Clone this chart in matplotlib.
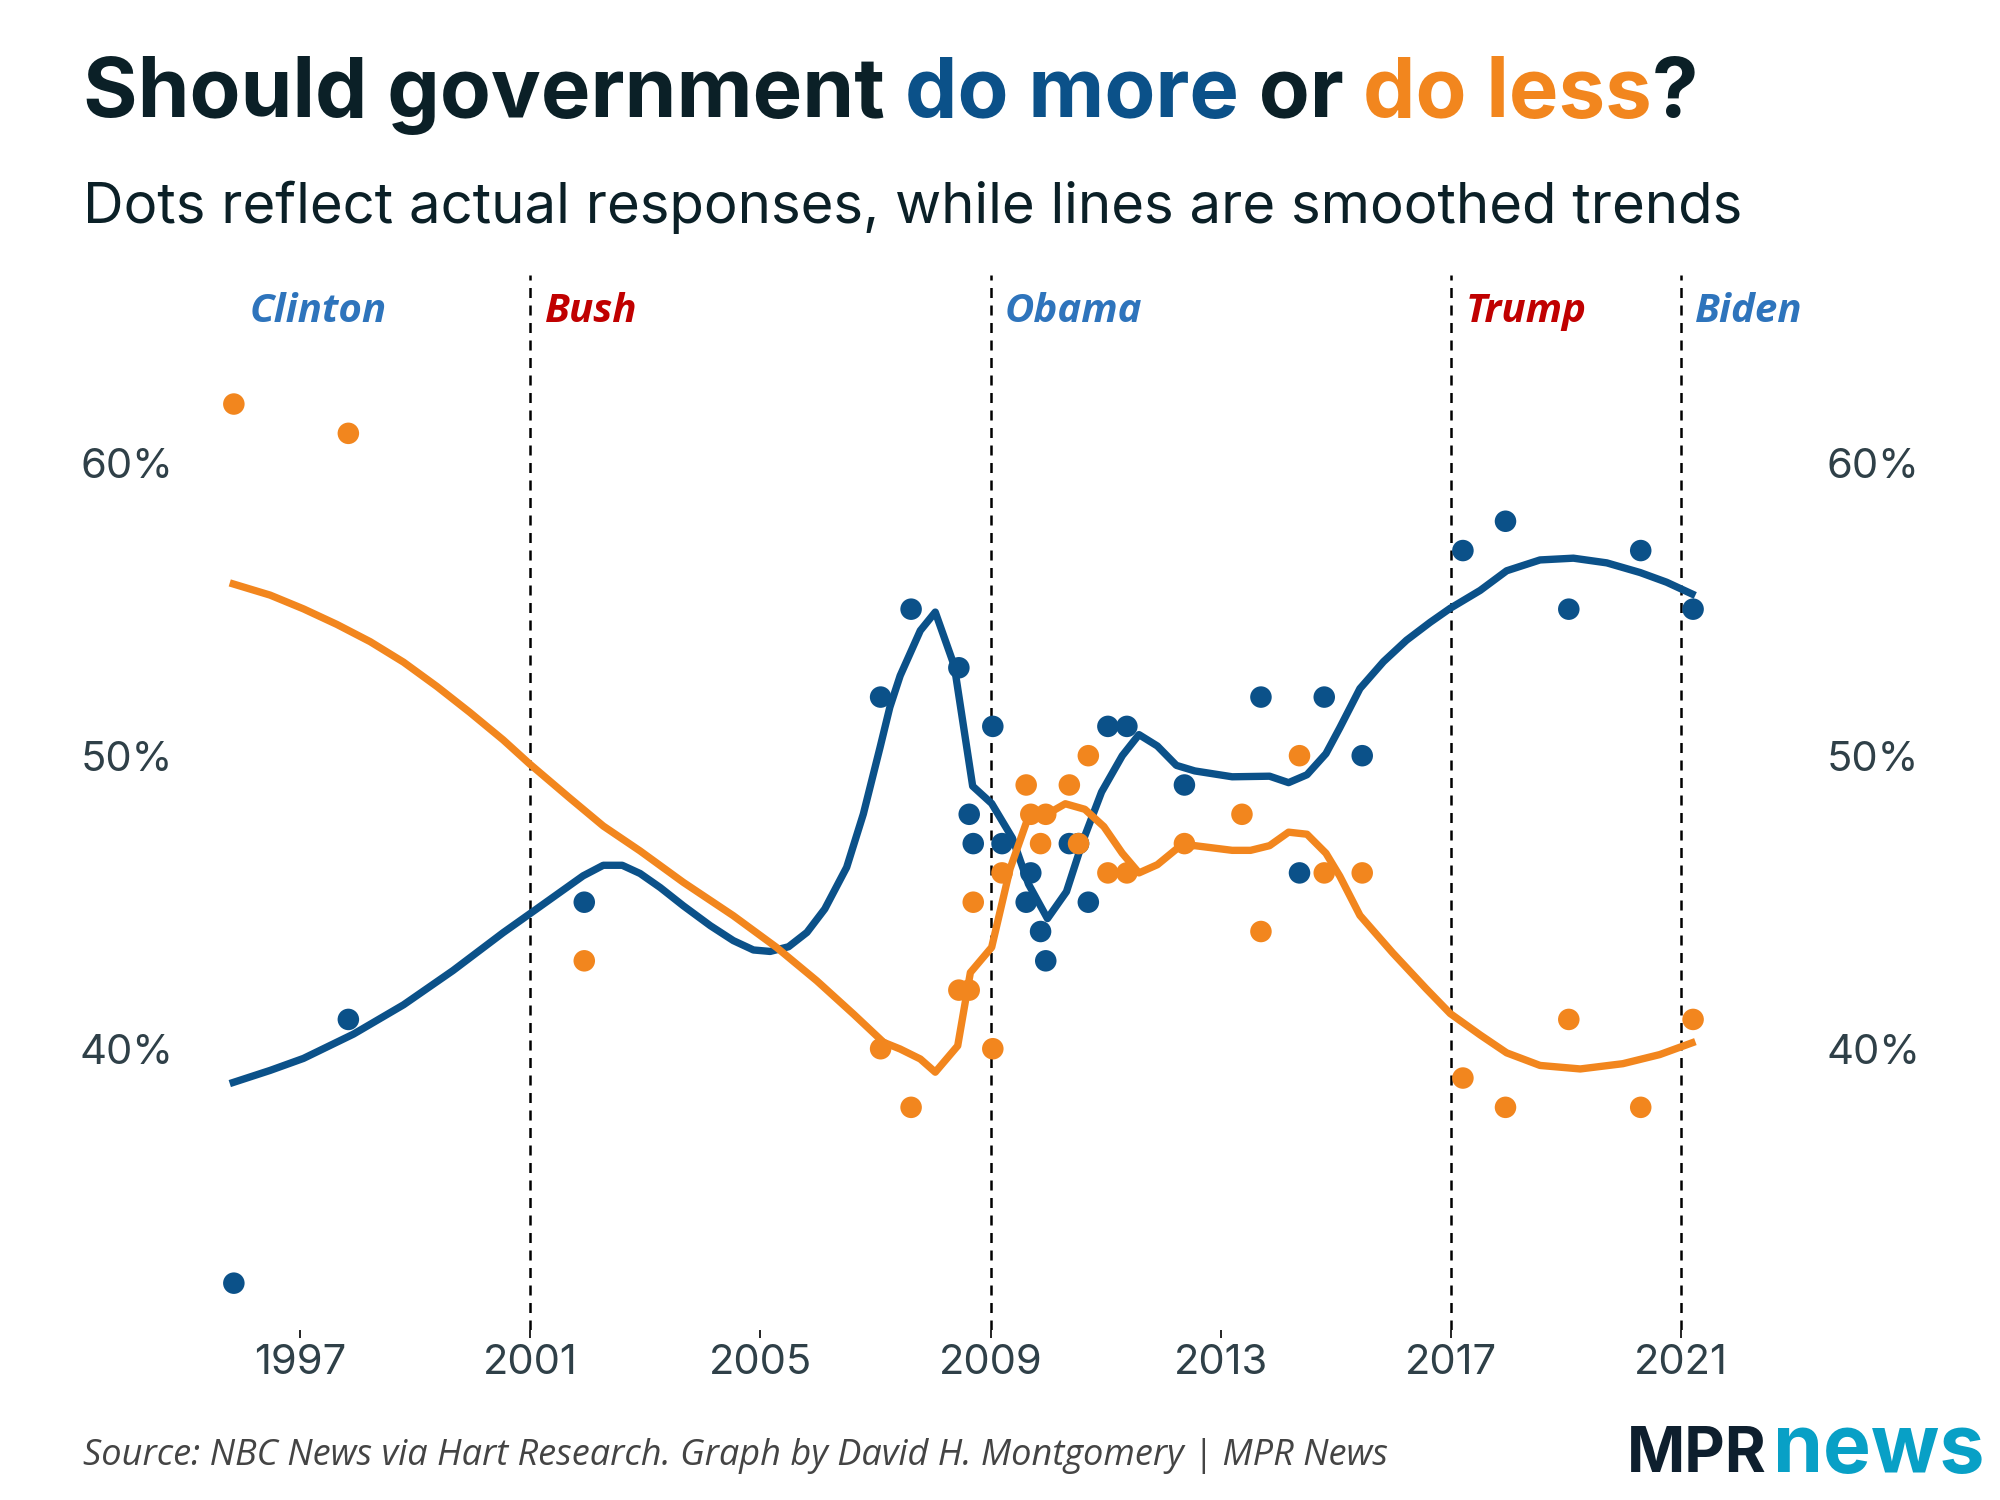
import matplotlib
matplotlib.use('Agg')
import matplotlib.pyplot as plt

# colours
BLUE = '#0B5189'
ORANGE = '#F2861E'
DARK = '#0B2027'
LBLUE = '#2E74BC'
RED = '#C00000'
GREY_TXT = '#2F4048'

# poll results (dots)
more_years = [1995.85, 1997.84, 2001.94, 2007.09, 2007.62, 2008.45, 2008.63, 2008.70,
              2009.04, 2009.20, 2009.62, 2009.70, 2009.87, 2009.96, 2010.37, 2010.53,
              2010.70, 2011.04, 2011.37, 2012.37, 2013.70, 2014.37, 2014.80, 2015.46,
              2017.21, 2017.95, 2019.05, 2020.30, 2021.21]
more_pct = [32, 41, 45, 52, 55, 53, 48, 47,
            51, 47, 45, 46, 44, 43, 47, 47,
            45, 51, 51, 49, 52, 46, 52, 50,
            57, 58, 55, 57, 55]

less_years = [1995.85, 1997.84, 2001.94, 2007.09, 2007.62, 2008.45, 2008.63, 2008.70,
              2009.04, 2009.20, 2009.62, 2009.70, 2009.87, 2009.96, 2010.37, 2010.53,
              2010.70, 2011.04, 2011.37, 2012.37, 2013.37, 2013.70, 2014.37, 2014.80,
              2015.46, 2017.21, 2017.95, 2019.05, 2020.30, 2021.21]
less_pct = [62, 61, 43, 40, 38, 42, 42, 45,
            40, 46, 49, 48, 47, 48, 49, 47,
            50, 46, 46, 47, 48, 44, 50, 46,
            46, 39, 38, 41, 38, 41]

# smoothed trend lines
more_line_x = [1995.84, 1996.48, 1997.06, 1997.93, 1998.80, 1999.66, 2000.53, 2000.99,
               2001.92, 2002.27, 2002.60, 2002.91, 2003.26, 2003.66, 2004.13, 2004.53,
               2004.88, 2005.17, 2005.49, 2005.81, 2006.12, 2006.50, 2006.79, 2007.08,
               2007.25, 2007.43, 2007.78, 2008.04, 2008.37, 2008.69, 2009.02, 2009.38,
               2009.66, 2009.99, 2010.32, 2010.60, 2010.93, 2011.29, 2011.58, 2011.90,
               2012.23, 2012.55, 2013.20, 2013.85, 2014.18, 2014.50, 2014.83, 2015.07,
               2015.42, 2015.83, 2016.23, 2016.64, 2016.99, 2017.51, 2017.97, 2018.55,
               2019.13, 2019.71, 2020.29, 2020.75, 2021.19]
more_line_y = [38.85, 39.26, 39.67, 40.5, 41.5, 42.67, 43.96, 44.6,
               45.9, 46.26, 46.26, 45.98, 45.5, 44.88, 44.2, 43.69,
               43.37, 43.32, 43.48, 43.97, 44.77, 46.19, 48.01, 50.28,
               51.65, 52.73, 54.27, 54.9, 53.07, 48.96, 48.37, 47.19,
               45.62, 44.44, 45.36, 47.06, 48.76, 50.0, 50.72, 50.33,
               49.67, 49.48, 49.28, 49.3, 49.08, 49.35, 50.07, 50.95,
               52.29, 53.21, 53.94, 54.55, 55.03, 55.64, 56.31, 56.68,
               56.74, 56.58, 56.25, 55.92, 55.52]

less_line_x = [1995.84, 1996.48, 1997.06, 1997.64, 1998.22, 1998.80, 1999.38, 1999.95,
               2000.53, 2000.99, 2001.69, 2002.27, 2002.91, 2003.66, 2004.53, 2005.28,
               2005.98, 2006.62, 2007.14, 2007.43, 2007.78, 2008.04, 2008.43, 2008.65,
               2009.02, 2009.34, 2009.67, 2009.96, 2010.30, 2010.64, 2010.97, 2011.29,
               2011.58, 2011.90, 2012.26, 2012.55, 2013.20, 2013.52, 2013.85, 2014.18,
               2014.50, 2014.83, 2015.07, 2015.42, 2015.99, 2016.57, 2016.99, 2017.51,
               2017.97, 2018.55, 2019.25, 2019.99, 2020.63, 2021.19]
less_line_y = [55.86, 55.48, 55.01, 54.48, 53.89, 53.19, 52.36, 51.48,
               50.54, 49.72, 48.55, 47.6, 46.75, 45.68, 44.54, 43.46,
               42.32, 41.18, 40.22, 39.99, 39.65, 39.2, 40.1, 42.6,
               43.46, 46.14, 47.98, 47.98, 48.36, 48.17, 47.58, 46.67,
               46.0, 46.28, 46.86, 46.93, 46.77, 46.77, 46.93, 47.39,
               47.32, 46.67, 45.89, 44.55, 43.27, 42.05, 41.2, 40.47,
               39.86, 39.43, 39.31, 39.49, 39.8, 40.2]

# presidencies
pres_names = ['Clinton', 'Bush', 'Obama', 'Trump', 'Biden']
pres_start = [1996.13, 2001.0, 2009.0, 2017.0, 2021.0]
pres_colors = [LBLUE, RED, LBLUE, RED, LBLUE]

xticks = [1997, 2001, 2005, 2009, 2013, 2017, 2021]
yticks = [40, 50, 60]

fig = plt.figure(figsize=(20, 15), dpi=100)
ax = fig.add_axes([0.1011, 0.1133, 0.7768, 0.7033])
ax.set_xlim(1995.3, 2022.3)
ax.set_ylim(30.4, 66.4)

# presidential dividers and names
for i in range(len(pres_names)):
    if i > 0:
        ax.axvline(pres_start[i], color='black', lw=1.8, ls=(0, (4, 3)), zorder=1)
        lx = pres_start[i] + 0.25
    else:
        lx = pres_start[i]
    ax.text(lx, 65.15, pres_names[i], color=pres_colors[i], fontsize=29,
            fontweight='bold', fontstyle='italic', family='Open Sans', va='center', ha='left')

ax.plot(more_line_x, more_line_y, color=BLUE, lw=5.3, solid_joinstyle='round', zorder=2)
ax.plot(less_line_x, less_line_y, color=ORANGE, lw=5.3, solid_joinstyle='round', zorder=2)
ax.scatter(more_years, more_pct, s=240, color=BLUE, edgecolor='none', zorder=3)
ax.scatter(less_years, less_pct, s=240, color=ORANGE, edgecolor='none', zorder=4)

for s in ax.spines.values():
    s.set_visible(False)
ax.set_xticks(xticks)
ax.set_xticklabels([str(x) for x in xticks], family='Inter', fontsize=30, color=GREY_TXT)
ax.set_yticks(yticks)
ax.set_yticklabels([f'{y}%' for y in yticks], family='Inter', fontsize=30, color=GREY_TXT)
ax.tick_params(axis='x', length=6, width=1.2, color='black', pad=4)
ax.tick_params(axis='y', length=0, pad=21)

ax2 = ax.twinx()
ax2.set_ylim(ax.get_ylim())
ax2.set_yticks(yticks)
ax2.set_yticklabels([f'{y}%' for y in yticks], family='Inter', fontsize=30, color=GREY_TXT)
ax2.tick_params(axis='y', length=0, pad=51)
for s in ax2.spines.values():
    s.set_visible(False)

# title in three colours
renderer = fig.canvas.get_renderer()
parts = [('Should government ', DARK), ('do more', BLUE), (' or ', DARK),
         ('do less', ORANGE), ('?', DARK)]
x = 0.0415
for txt, col in parts:
    t = fig.text(x, 0.922, txt, fontsize=60, fontweight='bold', family='Inter',
                 color=col, va='baseline', ha='left')
    bb = t.get_window_extent(renderer=renderer)
    x = bb.x1 / fig.bbox.width

fig.text(0.0415, 0.851, 'Dots reflect actual responses, while lines are smoothed trends',
         fontsize=40.5, family='Inter', color=DARK, va='baseline', ha='left')

fig.text(0.0415, 0.023, 'Source: NBC News via Hart Research. Graph by David H. Montgomery | MPR News',
         fontsize=26, family='Open Sans', fontstyle='italic', color='#444444',
         va='baseline', ha='left')

t = fig.text(0.8135, 0.0187, 'MPR', fontsize=45, fontweight='bold', family='Inter',
             color='#0E1F2E', va='baseline', ha='left')
bb = t.get_window_extent(renderer=renderer)
fig.text(bb.x1 / fig.bbox.width + 0.003, 0.0187, 'news', fontsize=58, fontweight='bold',
         family='Inter', color='#08A0C6', va='baseline', ha='left')

fig.savefig('out.png', dpi=100, facecolor='white')
